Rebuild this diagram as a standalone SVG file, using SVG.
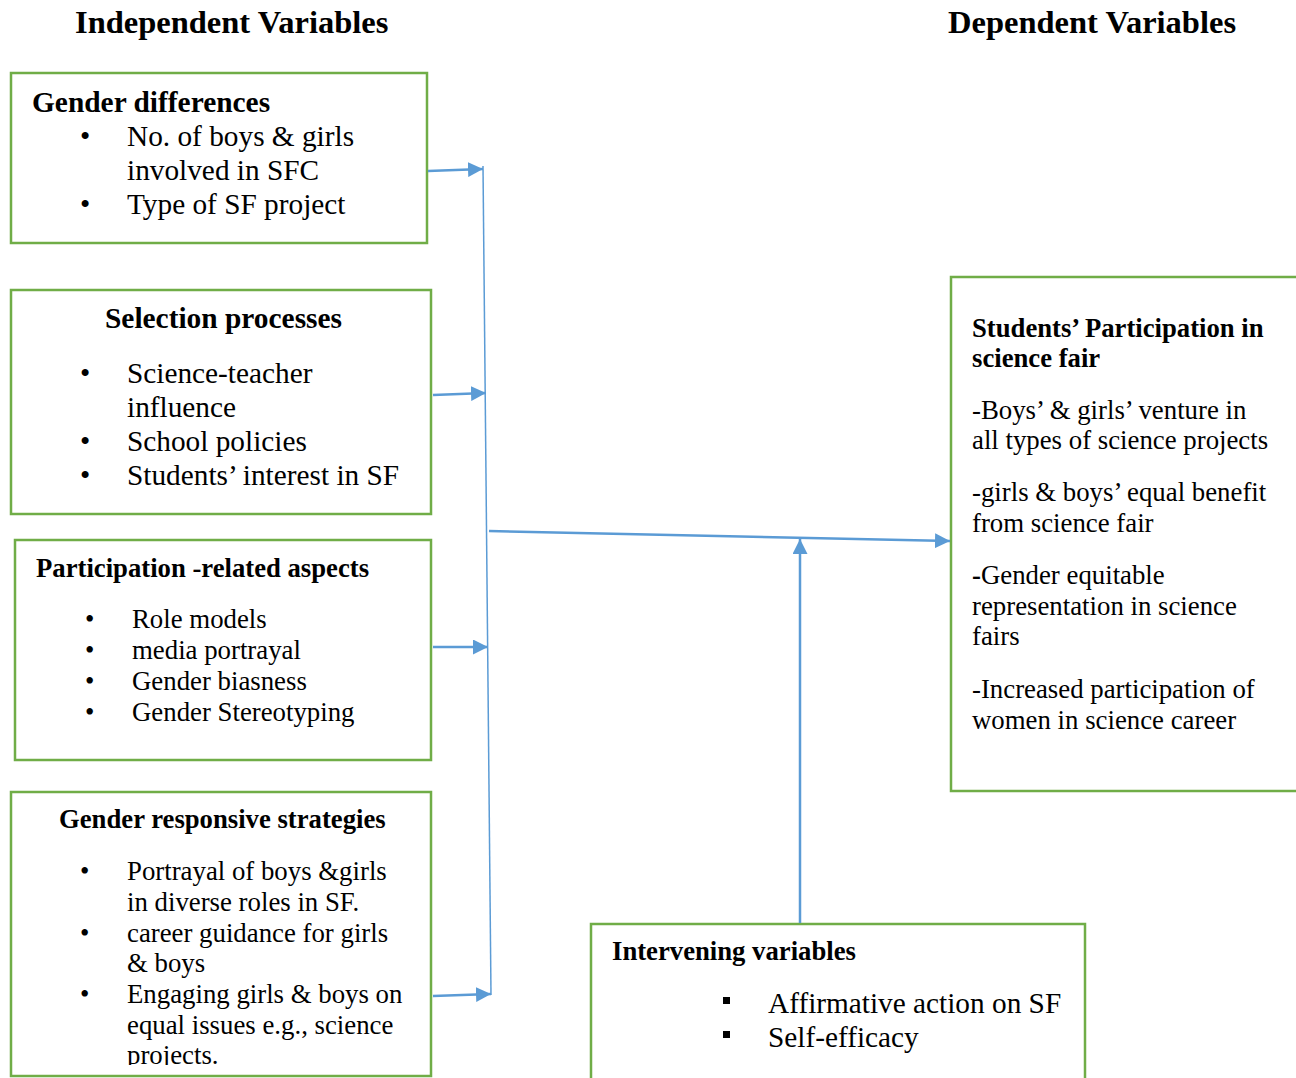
<svg xmlns="http://www.w3.org/2000/svg" width="1296" height="1078" viewBox="0 0 1296 1078">
<style>
text{font-family:"Liberation Serif","Times New Roman",serif;fill:#000}
.t{font-size:32.5px;font-weight:bold}
.h{font-size:29.4px;font-weight:bold}
.h2{font-size:26.7px;font-weight:bold}
.b{font-size:29.3px}
.s{font-size:26.8px}
.box{fill:#fff;stroke:#70AD47;stroke-width:2.5}
.c{stroke:#5B9BD5;fill:none}
</style>
<defs>
<marker id="ah" viewBox="0 0 10 10" refX="10" refY="5" markerWidth="15" markerHeight="15" markerUnits="userSpaceOnUse" orient="auto"><path d="M0,0L10,5L0,10z" fill="#5B9BD5"/></marker>
<clipPath id="clip4"><rect x="0" y="780" width="440" height="285"/></clipPath>
</defs>
<rect width="1296" height="1078" fill="#fff"/>
<g transform="translate(0,1)">
<text class="t" x="75" y="32">Independent Variables</text>
<text class="t" x="948" y="32">Dependent Variables</text>
</g>

<g id="gender-differences">
<rect class="box" x="11" y="73" width="416" height="170"/>
<g transform="translate(0,1)">
<text class="h" x="32" y="111">Gender differences</text>
<text class="b" x="80" y="145">•</text><text class="b" x="127" y="145">No. of boys &amp; girls</text>
<text class="b" x="127" y="179">involved in SFC</text>
<text class="b" x="80" y="213">•</text><text class="b" x="127" y="213">Type of SF project</text>
</g>
</g>

<g id="selection-processes">
<rect class="box" x="11" y="290" width="420" height="224"/>
<g transform="translate(0,1)">
<text class="h" x="105" y="327">Selection processes</text>
<text class="b" x="80" y="382">•</text><text class="b" x="127" y="382">Science-teacher</text>
<text class="b" x="127" y="416">influence</text>
<text class="b" x="80" y="450">•</text><text class="b" x="127" y="450">School policies</text>
<text class="b" x="80" y="484">•</text><text class="b" x="127" y="484">Students’ interest in SF</text>
</g>
</g>

<g id="participation-aspects">
<rect class="box" x="15" y="540" width="416" height="220"/>
<text class="h2" x="36" y="577">Participation -related aspects</text>
<text class="s" x="85" y="628">•</text><text class="s" x="132" y="628">Role models</text>
<text class="s" x="85" y="659">•</text><text class="s" x="132" y="659">media portrayal</text>
<text class="s" x="85" y="690">•</text><text class="s" x="132" y="690">Gender biasness</text>
<text class="s" x="85" y="721">•</text><text class="s" x="132" y="721">Gender Stereotyping</text>
</g>

<g id="gender-responsive-strategies">
<rect class="box" x="11" y="792" width="420" height="284"/>
<text class="h2" x="59" y="828">Gender responsive strategies</text>
<g clip-path="url(#clip4)">
<text class="s" x="80" y="880">•</text><text class="s" x="127" y="880">Portrayal of boys &amp;girls</text>
<text class="s" x="127" y="911">in diverse roles in SF.</text>
<text class="s" x="80" y="942">•</text><text class="s" x="127" y="942">career guidance for girls</text>
<text class="s" x="127" y="972">&amp; boys</text>
<text class="s" x="80" y="1003">•</text><text class="s" x="127" y="1003">Engaging girls &amp; boys on</text>
<text class="s" x="127" y="1034">equal issues e.g., science</text>
<text class="s" x="127" y="1064">projects.</text>
</g>
</g>

<g id="students-participation">
<rect class="box" x="951" y="277" width="400" height="514"/>
<text class="h2" x="972" y="337">Students’ Participation in</text>
<text class="h2" x="972" y="367">science fair</text>
<text class="s" x="972" y="419">-Boys’ &amp; girls’ venture in</text>
<text class="s" x="972" y="449">all types of science projects</text>
<text class="s" x="972" y="501">-girls &amp; boys’ equal benefit</text>
<text class="s" x="972" y="532">from science fair</text>
<text class="s" x="972" y="584"><tspan font-weight="bold">-</tspan>Gender equitable</text>
<text class="s" x="972" y="615">representation in science</text>
<text class="s" x="972" y="645">fairs</text>
<text class="s" x="972" y="698">-Increased participation of</text>
<text class="s" x="972" y="729">women in science career</text>
</g>

<g id="intervening-variables">
<rect class="box" x="591" y="924" width="494" height="200"/>
<text class="h2" x="612" y="960">Intervening variables</text>
<rect x="723" y="997" width="7" height="7" fill="#000"/>
<text class="b" x="768" y="1013">Affirmative action on SF</text>
<rect x="723" y="1031" width="7" height="7" fill="#000"/>
<text class="b" x="768" y="1047">Self-efficacy</text>
</g>

<g id="connectors">
<line class="c" x1="483" y1="166" x2="491" y2="995" stroke-width="1.5"/>
<line class="c" x1="428" y1="171" x2="483" y2="169" stroke-width="2.5" marker-end="url(#ah)"/>
<line class="c" x1="433" y1="395" x2="486" y2="393" stroke-width="2.5" marker-end="url(#ah)"/>
<line class="c" x1="433" y1="647" x2="488" y2="647" stroke-width="2.5" marker-end="url(#ah)"/>
<line class="c" x1="433" y1="996" x2="491" y2="994" stroke-width="2.5" marker-end="url(#ah)"/>
<line class="c" x1="489" y1="531" x2="950" y2="541" stroke-width="2.5" marker-end="url(#ah)"/>
<line class="c" x1="800" y1="923" x2="800" y2="539" stroke-width="2.5" marker-end="url(#ah)"/>
</g>
</svg>
